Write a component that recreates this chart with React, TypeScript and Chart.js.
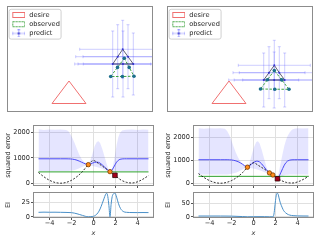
import React, { useEffect, useRef } from 'react';
import { Chart, registerables } from 'chart.js';

Chart.register(...registerables);
Chart.defaults.font.family = 'DejaVu Sans';
Chart.defaults.font.size = 6.6;
Chart.defaults.color = '#262626';

// ---------------- top panels (shape space) ----------------
const desireX = [-1.1, -2.8, 0.6];
const desireY = [-2.2, -4.45, -4.45];

// order: apex, left-mid, base-left, base-mid, base-right, right-mid
const obs1X = [4.43, 3.75, 3.07, 4.24, 5.4, 4.92];
const obs1Y = [0.07, -0.84, -1.75, -1.75, -1.72, -0.84];
const pred1X = [4.27, 3.77, 3.27, 4.3, 5.33, 4.8];
const pred1Y = [0.97, 0.23, -0.5, -0.5, -0.5, 0.23];
const pred1XErr = [4.3, 4.2, 3.8, 4.5, 5.0, 4.5];
const pred1YErr = [2.9, 3.2, 3.3, 3.3, 3.1, 3.2];

const obs2X = [3.43, 2.74, 2.05, 3.48, 4.9, 4.17];
const obs2Y = [-1.15, -2.08, -3.0, -3.02, -3.03, -2.09];
const pred2X = [3.43, 2.9, 2.37, 3.42, 4.47, 3.93];
const pred2Y = [-0.63, -1.37, -2.1, -2.1, -2.1, -1.37];
const pred2XErr = [3.6, 3.6, 3.5, 4.0, 4.2, 4.0];
const pred2YErr = [2.5, 2.6, 2.7, 2.8, 2.7, 2.6];

const legendLabels = ['desire', 'observed', 'predict'];

// ---------------- squared error panels ----------------
const xTicks = [-4, -2, 0, 2, 4];
const seTicks = [0, 1000, 2000];
const xDomain = [-5, 5];

const trueX = [-5, -4.5, -4, -3.5, -3, -2.5, -2, -1.5, -1, -0.5, 0, 0.5, 1, 1.5, 2, 2.5, 3, 3.5, 4, 4.5, 5];
const trueY = [420, 250, 115, 30, 0, 30, 115, 260, 460, 720, 890, 760, 610, 455, 290, 125, 35, 8, 55, 160, 300];

const gpX1 = [-5, -4.5, -4, -3.5, -3, -2.5, -2.3, -2.1, -1.9, -1.7, -1.5, -1.3, -1.1, -0.9, -0.7, -0.47, -0.3, -0.1, 0.1, 0.3, 0.45, 0.6, 0.8, 1.0, 1.2, 1.35, 1.5, 1.65, 1.8, 1.95, 2.1, 2.25, 2.4, 2.6, 2.8, 3, 3.5, 4, 4.5, 5];
const up1 = [2120, 2095, 2110, 2100, 2115, 2090, 2050, 1930, 1760, 1560, 1340, 1130, 960, 850, 790, 745, 880, 1150, 1450, 1620, 1650, 1580, 1350, 1050, 760, 560, 470, 520, 750, 1100, 1500, 1800, 1980, 2070, 2095, 2100, 2115, 2095, 2110, 2100];
const mean1 = [960, 960, 960, 960, 960, 960, 958, 955, 945, 930, 905, 870, 830, 790, 755, 730, 745, 790, 820, 830, 820, 790, 720, 640, 560, 500, 455, 500, 600, 720, 830, 900, 940, 955, 960, 960, 960, 960, 960, 960];
const lo1 = [480, 480, 480, 480, 480, 480, 480, 490, 500, 520, 550, 590, 630, 670, 700, 715, 700, 680, 660, 640, 620, 600, 570, 530, 490, 460, 440, 445, 455, 465, 470, 475, 478, 480, 480, 480, 480, 480, 480, 480];
const obsX1 = [-0.47, 1.5];
const obsY1 = [730, 455];
const nextX1 = [1.95];
const nextY1 = [310];
const best1 = [445, 445];

const gpX2 = [-5, -4.5, -4, -3.5, -3, -2.6, -2.4, -2.2, -2.0, -1.8, -1.6, -1.4, -1.2, -1.0, -0.8, -0.55, -0.35, -0.15, 0.05, 0.25, 0.4, 0.55, 0.75, 0.95, 1.15, 1.3, 1.45, 1.6, 1.76, 1.9, 2.05, 2.2, 2.35, 2.5, 2.65, 2.8, 2.95, 3.1, 3.3, 3.5, 3.7, 4, 4.5, 5];
const up2 = [2400, 2380, 2395, 2385, 2400, 2380, 2280, 2100, 1850, 1580, 1330, 1120, 960, 850, 770, 720, 900, 1250, 1580, 1800, 1830, 1750, 1450, 1100, 750, 560, 460, 420, 370, 330, 300, 260, 600, 950, 1300, 1620, 1880, 2060, 2220, 2330, 2380, 2395, 2385, 2400];
const mean2 = [1025, 1025, 1025, 1025, 1025, 1025, 1025, 1022, 1015, 1000, 975, 940, 890, 830, 760, 700, 760, 850, 920, 960, 960, 930, 840, 720, 600, 520, 450, 400, 360, 290, 235, 215, 320, 480, 640, 790, 900, 970, 1010, 1022, 1025, 1025, 1025, 1025];
const lo2 = [380, 380, 380, 380, 380, 380, 385, 395, 410, 430, 460, 500, 550, 600, 650, 685, 670, 650, 630, 610, 590, 570, 530, 490, 460, 445, 440, 390, 345, 270, 200, 170, 220, 280, 320, 350, 365, 375, 380, 380, 380, 380, 380, 380];
const obsX2 = [-0.55, 1.45, 1.76];
const obsY2 = [700, 450, 360];
const nextX2 = [2.18];
const nextY2 = [195];
const best2 = [300, 300];

// ---------------- EI panels ----------------
const eiX1 = [-5, -4.5, -4, -3.5, -3, -2.5, -2, -1.75, -1.5, -1.25, -1, -0.75, -0.47, -0.25, 0, 0.2, 0.4, 0.6, 0.8, 0.95, 1.1, 1.2, 1.3, 1.4, 1.5, 1.6, 1.7, 1.82, 1.95, 2.1, 2.26, 2.45, 2.7, 3, 3.5, 4, 4.5, 5];
const eiY1 = [8, 8.3, 8.1, 8.2, 8, 7.8, 7.4, 6.6, 5.4, 4, 2.5, 1, 0, 0.3, 1, 3, 7, 14, 24, 32, 40, 42, 36, 20, 0, 22, 36, 41, 42, 35, 24, 15, 9.5, 8, 7.6, 7.5, 7.6, 7.5];
const eiTicks1 = [0, 25];
const eiX2 = [-5, -4.5, -4, -3.5, -3, -2.5, -2, -1.5, -1, -0.55, 0, 0.5, 1, 1.45, 1.76, 1.84, 1.92, 2.0, 2.08, 2.16, 2.24, 2.32, 2.42, 2.52, 2.62, 2.75, 2.9, 3.05, 3.3, 3.6, 4, 4.5, 5];
const eiY2 = [3, 3.1, 3, 3.1, 3, 2.9, 2.6, 1.8, 1, 0, 0.4, 0.6, 0.5, 0, 0, 6, 30, 62, 84, 90, 86, 72, 56, 44, 34, 23, 16, 11, 6.5, 4.5, 3.5, 3.2, 3];
const eiTicks2 = [0, 50];

// ---------------- helpers ----------------
type Pt = { x: number; y: number };
const pts = (xs: number[], ys: number[]): Pt[] => xs.map((x, i) => ({ x, y: ys[i] }));
const closed = (a: Pt[]) => [...a, a[0]];
const fmtTick = (v: any) => {
  const n = Number(v);
  return n < 0 ? '\u2212' + Math.abs(n) : String(n);
};
const TXT = '#262626';
const GRID = '#e0e0e0';
const OBS_GREEN = '#3da33d';

const framePlugin = {
  id: 'frame',
  afterDatasetsDraw(chart: any) {
    const { ctx, chartArea: a } = chart;
    ctx.save();
    ctx.strokeStyle = '#8c8c8c';
    ctx.lineWidth = 1;
    ctx.strokeRect(a.left + 0.5, a.top + 0.5, a.right - a.left - 1, a.bottom - a.top - 1);
    ctx.restore();
  },
};

const legendFramePlugin = {
  id: 'legendFrame',
  beforeDraw(chart: any) {
    const boxes = chart.legend && chart.legend.legendHitBoxes;
    if (!boxes || !boxes.length) return;
    let l = Infinity, t = Infinity, r = -Infinity, b = -Infinity;
    boxes.forEach((h: any) => {
      l = Math.min(l, h.left);
      t = Math.min(t, h.top);
      r = Math.max(r, h.left + h.width);
      b = Math.max(b, h.top + h.height);
    });
    const ctx = chart.ctx;
    const x0 = l - 0.5, y0 = t - 2.4, x1 = r + 1.2, y1 = b + 2.4;
    ctx.save();
    ctx.beginPath();
    if (ctx.roundRect) ctx.roundRect(x0, y0, x1 - x0, y1 - y0, 2);
    else ctx.rect(x0, y0, x1 - x0, y1 - y0);
    ctx.fillStyle = 'rgba(255,255,255,0.8)';
    ctx.fill();
    ctx.strokeStyle = '#d0d0d0';
    ctx.lineWidth = 1;
    ctx.stroke();
    ctx.restore();
  },
};

function makeIcon(kind: number) {
  const c = document.createElement('canvas');
  c.width = 15;
  c.height = 8;
  const g = c.getContext('2d')!;
  if (kind === 0) {
    g.strokeStyle = '#f07070';
    g.lineWidth = 1;
    g.strokeRect(2.5, 1.5, 12, 5);
  } else if (kind === 1) {
    g.strokeStyle = OBS_GREEN;
    g.lineWidth = 1;
    g.setLineDash([2, 1]);
    g.strokeRect(2.5, 1.5, 12, 5);
  } else {
    g.strokeStyle = 'rgba(60,60,255,0.35)';
    g.lineWidth = 1;
    g.beginPath();
    g.moveTo(2, 4); g.lineTo(15, 4);
    g.moveTo(8.5, 0); g.lineTo(8.5, 8);
    g.moveTo(2.5, 2.5); g.lineTo(2.5, 5.5);
    g.moveTo(14.5, 2.5); g.lineTo(14.5, 5.5);
    g.moveTo(7, 0.5); g.lineTo(10, 0.5);
    g.moveTo(7, 7.5); g.lineTo(10, 7.5);
    g.stroke();
    g.fillStyle = '#3a3ad0';
    g.beginPath();
    g.arc(8.5, 4, 1.2, 0, Math.PI * 2);
    g.fill();
  }
  return c;
}

function topConfig(obsX: number[], obsY: number[], predX: number[], predY: number[], xErr: number[], yErr: number[], pad: any) {
  const icons = [0, 1, 2].map(makeIcon);
  const errColor = 'rgba(60,60,255,0.25)';
  const errSets: any[] = [];
  predX.forEach((x, i) => {
    errSets.push({
      data: [{ x, y: predY[i] - yErr[i] }, { x, y: predY[i] + yErr[i] }],
      borderColor: errColor, borderWidth: 1, pointStyle: 'line', pointRadius: 1.5,
      pointBorderColor: errColor, pointBorderWidth: 1, pointRotation: 0,
    });
    errSets.push({
      data: [{ x: x - xErr[i], y: predY[i] }, { x: x + xErr[i], y: predY[i] }],
      borderColor: errColor, borderWidth: 1, pointStyle: 'line', pointRadius: 1.5,
      pointBorderColor: errColor, pointBorderWidth: 1, pointRotation: 90,
    });
  });
  return {
    type: 'line',
    data: {
      datasets: [
        { data: pts(obsX, obsY), showLine: false, pointRadius: 1.8, pointBackgroundColor: '#1d6f8c', pointBorderWidth: 0 },
        { data: pts(predX, predY), showLine: false, pointRadius: 1, pointBackgroundColor: '#3535d0', pointBorderWidth: 0 },
        { data: closed(pts(predX, predY)), borderColor: 'rgba(20,20,50,0.85)', borderWidth: 0.8, pointRadius: 0 },
        { data: closed(pts(obsX, obsY)), borderColor: OBS_GREEN, borderWidth: 1, borderDash: [2.5, 1.5], pointRadius: 0 },
        { data: closed(pts(desireX, desireY)), borderColor: '#f07070', borderWidth: 1, pointRadius: 0 },
        ...errSets,
      ],
    },
    options: {
      animation: false,
      responsive: false,
      events: [],
      layout: { padding: pad },
      scales: {
        x: { type: 'linear', display: false, min: -7.3, max: 7.3, bounds: 'data' },
        y: { type: 'linear', display: false, min: -5.3, max: 5.3, bounds: 'data' },
      },
      plugins: {
        tooltip: { enabled: false },
        legend: {
          display: true,
          position: 'chartArea',
          align: 'start',
          title: { display: true, text: ' ', font: { size: 1, lineHeight: 1 }, padding: { top: 8.1, bottom: 0 } },
          labels: {
            usePointStyle: true,
            pointStyleWidth: 16.4,
            padding: 2.6,
            color: TXT,
            font: { size: 6.6 },
            generateLabels: () =>
              legendLabels.map((text, i) => ({
                text, pointStyle: icons[i], fillStyle: 'transparent', strokeStyle: 'transparent',
                lineWidth: 0, hidden: false, datasetIndex: i, fontColor: TXT,
              })),
          },
        },
      },
    },
    plugins: [legendFramePlugin, framePlugin],
  };
}

function xAxis(showLabels: boolean, height: number) {
  return {
    type: 'linear', min: -5.5, max: 5.5, bounds: 'data',
    afterBuildTicks: (s: any) => { s.ticks = xTicks.map((v) => ({ value: v })); },
    afterFit: (s: any) => { s.height = height; },
    grid: { color: GRID, lineWidth: 1, tickLength: 2, tickColor: '#555', drawTicks: true },
    border: { display: false },
    ticks: { display: showLabels, padding: 0, color: TXT, font: { size: 6.6, lineHeight: 1 }, callback: fmtTick, maxRotation: 0, autoSkip: false },
    title: { display: showLabels, text: 'x', color: TXT, font: { size: 6.6, style: 'italic' }, padding: 0 },
  };
}

function yAxis(ticks: number[], range: number[], title: string) {
  return {
    type: 'linear', min: range[0], max: range[1], bounds: 'data',
    afterBuildTicks: (s: any) => { s.ticks = ticks.map((v) => ({ value: v })); },
    afterFit: (s: any) => { s.width = 29; },
    grid: { color: GRID, lineWidth: 1, tickLength: 2, tickColor: '#555', drawTicks: true },
    border: { display: false },
    ticks: { padding: 1, color: TXT, font: { size: 6.6, lineHeight: 1 }, callback: fmtTick, autoSkip: false },
    title: { display: true, text: title, color: TXT, font: { size: 6.6 }, padding: 0 },
  };
}

const baseOptions = (pad: any) => ({
  animation: false,
  responsive: false,
  events: [],
  layout: { padding: pad },
  plugins: { legend: { display: false }, tooltip: { enabled: false } },
});

function seConfig(gpX: number[], up: number[], mean: number[], lo: number[], obsX: number[], obsY: number[], nextX: number[], nextY: number[], best: number[], range: number[], pad: any) {
  return {
    type: 'line',
    data: {
      datasets: [
        { data: pts(nextX, nextY), showLine: false, pointStyle: 'rect', pointRadius: 3.2, pointBackgroundColor: '#a5001c', pointBorderColor: '#300000', pointBorderWidth: 0.8 },
        { data: pts(obsX, obsY), showLine: false, pointStyle: 'circle', pointRadius: 2.2, pointBackgroundColor: '#ff8c1a', pointBorderColor: '#7a3a00', pointBorderWidth: 0.8 },
        { data: pts(trueX, trueY), borderColor: 'rgba(0,0,0,0.8)', borderWidth: 1, borderDash: [2, 1.5], pointRadius: 0, cubicInterpolationMode: 'monotone' },
        { data: pts(xDomain, best), borderColor: '#2ca02c', borderWidth: 1, pointRadius: 0 },
        { data: pts(gpX, mean), borderColor: '#4b4bf5', borderWidth: 1, pointRadius: 0 },
        { data: pts(gpX, up), borderColor: 'transparent', borderWidth: 0, pointRadius: 0, fill: '+1', backgroundColor: 'rgba(40,40,255,0.12)' },
        { data: pts(gpX, lo), borderColor: 'transparent', borderWidth: 0, pointRadius: 0, fill: false },
      ],
    },
    options: {
      ...baseOptions(pad),
      scales: { x: xAxis(false, 4), y: yAxis(seTicks, range, 'squared error') },
    },
    plugins: [framePlugin],
  };
}

function eiConfig(xs: number[], ys: number[], ticks: number[], range: number[], pad: any) {
  return {
    type: 'line',
    data: {
      datasets: [
        { data: pts(xs, ys), borderColor: '#4a90c8', borderWidth: 1, pointRadius: 0, cubicInterpolationMode: 'monotone' },
      ],
    },
    options: {
      ...baseOptions(pad),
      scales: { x: xAxis(true, 19), y: yAxis(ticks, range, 'EI') },
    },
    plugins: [framePlugin],
  };
}

const makers: (() => any)[] = [
  () => topConfig(obs1X, obs1Y, pred1X, pred1Y, pred1XErr, pred1YErr, { left: 7, top: 6, right: 167, bottom: 128 }),
  () => topConfig(obs2X, obs2Y, pred2X, pred2Y, pred2XErr, pred2YErr, { left: 167, top: 6, right: 7, bottom: 128 }),
  () => seConfig(gpX1, up1, mean1, lo1, obsX1, obsY1, nextX1, nextY1, best1, [-110, 2290], { left: 4, top: 125, right: 166, bottom: 50 }),
  () => seConfig(gpX2, up2, mean2, lo2, obsX2, obsY2, nextX2, nextY2, best2, [-121, 2541], { left: 164, top: 125, right: 6, bottom: 50 }),
  () => eiConfig(eiX1, eiY1, eiTicks1, [-2.1, 44.1], { left: 4, top: 192, right: 166, bottom: 3 }),
  () => eiConfig(eiX2, eiY2, eiTicks2, [-4.5, 94.5], { left: 164, top: 192, right: 6, bottom: 3 }),
];

function Panel({ make }: { make: () => any }) {
  const ref = useRef<HTMLCanvasElement>(null);
  useEffect(() => {
    const chart = new Chart(ref.current as HTMLCanvasElement, make());
    return () => chart.destroy();
  }, [make]);
  return (
    <canvas
      ref={ref}
      width={320}
      height={240}
      style={{ position: 'absolute', left: 0, top: 0, width: 320, height: 240 }}
    />
  );
}

export default function App() {
  return (
    <div style={{ position: 'fixed', left: 0, top: 0, width: 320, height: 240, background: '#ffffff', overflow: 'hidden' }}>
      {makers.map((m, i) => (
        <Panel key={i} make={m} />
      ))}
    </div>
  );
}
